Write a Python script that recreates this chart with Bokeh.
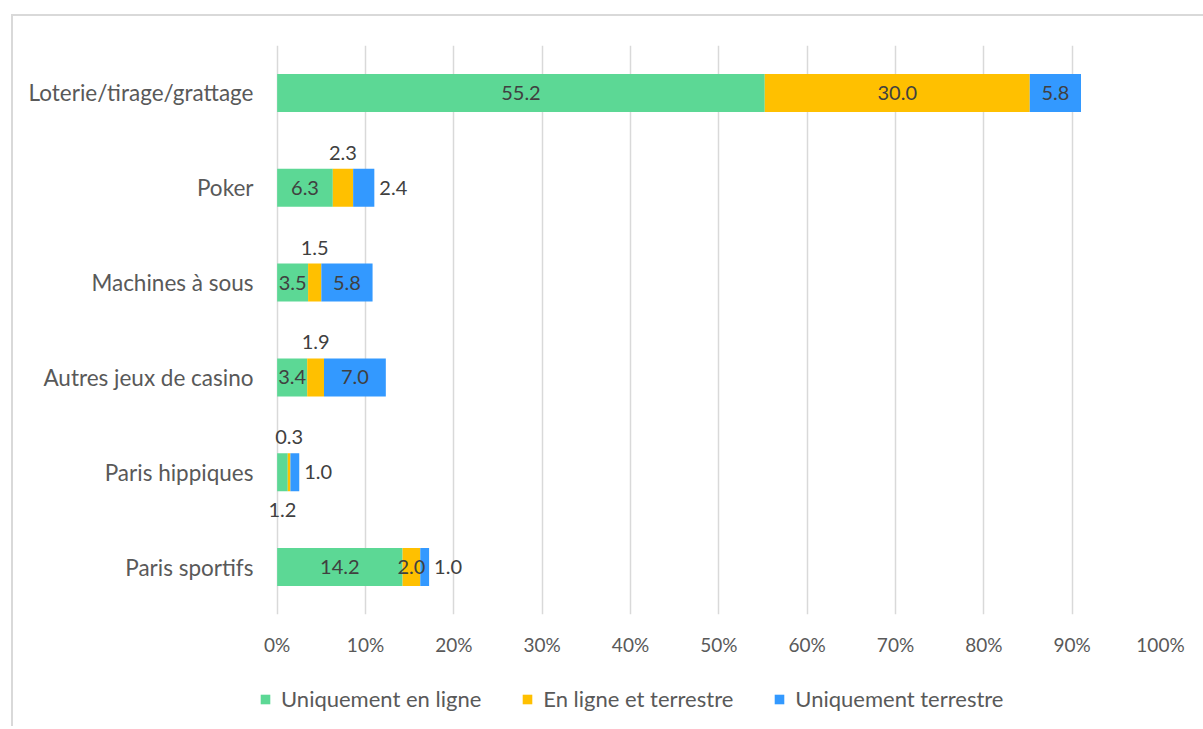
from bokeh.plotting import figure
from bokeh.layouts import column
from bokeh.models import (FactorRange, ColumnDataSource, Legend, LegendItem, FixedTicker,
                          CustomJSTickFormatter, LabelSet, Range1d)
from bokeh.core.properties import value
from bokeh.embed import file_html
from bokeh.resources import INLINE

categories = ["Loterie/tirage/grattage", "Poker", "Machines à sous",
              "Autres jeux de casino", "Paris hippiques", "Paris sportifs"]
series_names = ["Uniquement en ligne", "En ligne et terrestre", "Uniquement terrestre"]
en_ligne = [55.2, 6.3, 3.5, 3.4, 1.2, 14.2]
mixte = [30.0, 2.3, 1.5, 1.9, 0.3, 2.0]
terrestre = [5.8, 2.4, 5.8, 7.0, 1.0, 1.0]
colors = ["#5cd895", "#ffc000", "#3399ff"]
x_ticks = [0, 10, 20, 30, 40, 50, 60, 70, 80, 90, 100]

# label placement overrides (category, series index) -> placement
placement = {
    ("Poker", 1): "above", ("Poker", 2): "right",
    ("Machines à sous", 1): "above",
    ("Autres jeux de casino", 1): "above",
    ("Paris hippiques", 0): "below", ("Paris hippiques", 1): "above",
    ("Paris hippiques", 2): "right",
    ("Paris sportifs", 2): "right",
}

FONT = "Lato"
order = list(reversed(categories))

src = ColumnDataSource(dict(cat=categories, a=en_ligne, b=mixte, c=terrestre))

p = figure(frame_width=901, frame_height=569, y_range=FactorRange(*order),
           x_range=Range1d(-2, 100),
           output_backend="svg", toolbar_location=None,
           min_border_left=246, min_border_right=43, min_border_top=29, min_border_bottom=50)

renderers = p.hbar_stack(["a", "b", "c"], y="cat", height=0.4, color=colors,
                         line_color=None, source=src)

# data labels
groups = {"center": dict(x=[], y=[], t=[]), "above": dict(x=[], y=[], t=[]),
          "below": dict(x=[], y=[], t=[]), "right": dict(x=[], y=[], t=[])}
for i, cat in enumerate(categories):
    vals = [en_ligne[i], mixte[i], terrestre[i]]
    left = 0.0
    total = sum(vals)
    for j, v in enumerate(vals):
        pl = placement.get((cat, j), "center")
        xpos = total if pl == "right" else left + v / 2
        g = groups[pl]
        g["x"].append(xpos); g["y"].append(cat); g["t"].append(f"{v:.1f}")
        left += v

offsets = {"center": (0, 0, "center"), "above": (0, 35, "center"),
           "below": (0, -38, "center"), "right": (5, 0, "left")}
for k, g in groups.items():
    dx, dy, al = offsets[k]
    p.add_layout(LabelSet(x="x", y="y", text="t", source=ColumnDataSource(g),
                          x_offset=dx, y_offset=dy, text_align=al, text_baseline="middle",
                          text_font=value(FONT), text_font_size="20px", text_color="#404040"))

p.xaxis.ticker = FixedTicker(ticks=x_ticks)
p.xaxis.formatter = CustomJSTickFormatter(code="return tick.toFixed(0) + '%';")
p.xaxis.axis_line_color = None
p.xaxis.major_tick_line_color = None
p.xaxis.minor_tick_line_color = None
p.xaxis.major_label_standoff = 12
p.xaxis.major_label_text_font = FONT
p.xaxis.major_label_text_font_size = "19px"
p.xaxis.major_label_text_color = "#595959"

p.yaxis.axis_line_color = None
p.yaxis.major_tick_line_color = None
p.yaxis.major_label_standoff = 0
p.yaxis.major_label_text_font = FONT
p.yaxis.major_label_text_font_size = "22.5px"
p.yaxis.major_label_text_color = "#595959"

p.xgrid.grid_line_color = "#d9d9d9"
p.xgrid.grid_line_width = 1.5
p.ygrid.grid_line_color = None
p.outline_line_color = None

# legend figure (keys drawn from renderers whose data are empty placeholders)
leg = figure(width=1190, height=62, x_range=Range1d(0, 1), y_range=Range1d(0, 1),
             output_backend="svg", toolbar_location=None,
             min_border=0, min_border_left=0, min_border_right=0,
             min_border_top=0, min_border_bottom=0)
leg.axis.visible = False
leg.grid.visible = False
leg.outline_line_color = None
nan = float("nan")
placeholder = ColumnDataSource(dict(y=[nan], right=[nan]))
dummies = [leg.hbar(y="y", right="right", height=1, color=c, line_color=None, source=placeholder)
           for c in colors]
legend = Legend(items=[LegendItem(label=n, renderers=[r]) for n, r in zip(series_names, dummies)],
                orientation="horizontal", location=(0, 14),
                label_text_font=FONT, label_text_font_size="22px", label_text_color="#595959",
                glyph_width=12, glyph_height=12, spacing=40, label_standoff=10,
                border_line_color=None, background_fill_alpha=0, margin=0, padding=0)
leg.add_layout(legend, "center")

layout = column(p, leg, spacing=0)
layout.styles = {"margin-left": "11px", "margin-top": "14px",
                 "border-left": "2px solid #d9d9d9", "border-top": "2px solid #d9d9d9"}

open("out.html", "w").write(file_html(layout, INLINE))
